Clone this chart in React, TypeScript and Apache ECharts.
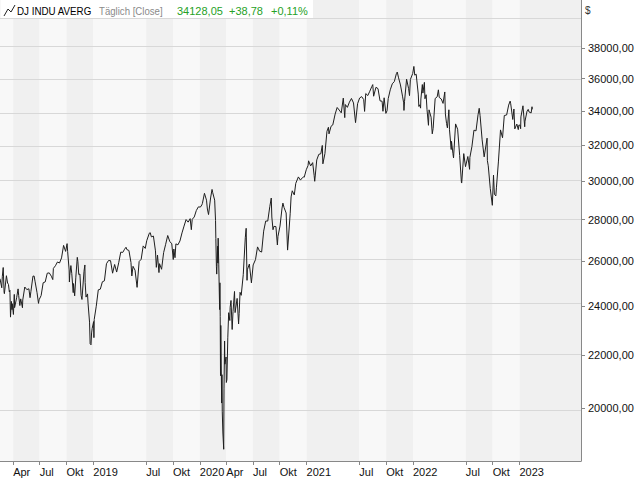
import React, { useEffect, useRef } from "react";
import * as echarts from "echarts";

const closes2018: [string, number][] = [
  ["2018-02-15", 25200], ["2018-02-16", 25219], ["2018-02-21", 24798], ["2018-02-23", 25310], ["2018-02-26", 25709],
  ["2018-03-01", 24608], ["2018-03-02", 24538], ["2018-03-09", 25336], ["2018-03-13", 25008], ["2018-03-16", 24947],
  ["2018-03-19", 24611], ["2018-03-21", 24683], ["2018-03-23", 23533], ["2018-03-26", 24202], ["2018-03-28", 23849],
  ["2018-03-29", 24103], ["2018-04-02", 23644], ["2018-04-05", 24505], ["2018-04-06", 23933], ["2018-04-13", 24360],
  ["2018-04-18", 24748], ["2018-04-20", 24463], ["2018-04-24", 24024], ["2018-04-27", 24311], ["2018-05-03", 23930],
  ["2018-05-04", 24263], ["2018-05-11", 24831], ["2018-05-18", 24715], ["2018-05-25", 24753], ["2018-05-29", 24362],
  ["2018-06-01", 24635], ["2018-06-08", 25317], ["2018-06-12", 25320], ["2018-06-15", 25090], ["2018-06-22", 24581],
  ["2018-06-27", 24117], ["2018-06-29", 24271], ["2018-07-06", 24456], ["2018-07-13", 25019], ["2018-07-20", 25058],
  ["2018-07-27", 25451], ["2018-08-03", 25463], ["2018-08-10", 25313], ["2018-08-15", 25162], ["2018-08-17", 25669],
  ["2018-08-24", 25790], ["2018-08-31", 25965], ["2018-09-07", 25917], ["2018-09-14", 26155], ["2018-09-21", 26744],
  ["2018-09-28", 26458], ["2018-10-03", 26828], ["2018-10-05", 26447], ["2018-10-10", 25599], ["2018-10-11", 25053],
  ["2018-10-12", 25340], ["2018-10-16", 25798], ["2018-10-19", 25444], ["2018-10-24", 24583], ["2018-10-25", 24984],
  ["2018-10-29", 24443], ["2018-11-02", 25271], ["2018-11-07", 26180], ["2018-11-09", 25989], ["2018-11-12", 25387],
  ["2018-11-16", 25413], ["2018-11-20", 24466], ["2018-11-23", 24286], ["2018-11-30", 25538], ["2018-12-03", 25826],
  ["2018-12-04", 25027], ["2018-12-07", 24389], ["2018-12-12", 24527], ["2018-12-14", 24101], ["2018-12-19", 23324],
  ["2018-12-21", 22445], ["2018-12-24", 22400], ["2018-12-26", 22878], ["2018-12-28", 23062],
];

const closes2019: [string, number][] = [
  ["2019-01-02", 23346], ["2019-01-03", 22686], ["2019-01-04", 23433], ["2019-01-11", 23996], ["2019-01-18", 24706],
  ["2019-01-25", 24737], ["2019-02-01", 25064], ["2019-02-08", 25106], ["2019-02-15", 25883], ["2019-02-22", 26031],
  ["2019-03-01", 26026], ["2019-03-08", 25450], ["2019-03-15", 25849], ["2019-03-22", 25502], ["2019-03-29", 25929],
  ["2019-04-05", 26425], ["2019-04-12", 26412], ["2019-04-18", 26559], ["2019-04-23", 26656], ["2019-04-26", 26543],
  ["2019-05-03", 26505], ["2019-05-10", 25942], ["2019-05-13", 25325], ["2019-05-17", 25764], ["2019-05-24", 25586],
  ["2019-05-31", 24815], ["2019-06-07", 25984], ["2019-06-14", 26090], ["2019-06-21", 26719], ["2019-06-28", 26600],
  ["2019-07-03", 26966], ["2019-07-12", 27332], ["2019-07-15", 27359], ["2019-07-19", 27154], ["2019-07-26", 27192],
  ["2019-08-02", 26485], ["2019-08-05", 25718], ["2019-08-09", 26287], ["2019-08-14", 25479], ["2019-08-16", 25886],
  ["2019-08-23", 25629], ["2019-08-30", 26403], ["2019-09-06", 26797], ["2019-09-13", 27220], ["2019-09-20", 26935],
  ["2019-09-27", 26820], ["2019-10-02", 26079], ["2019-10-04", 26573], ["2019-10-08", 26164], ["2019-10-11", 26817],
  ["2019-10-18", 26770], ["2019-10-25", 26958], ["2019-11-01", 27347], ["2019-11-08", 27681], ["2019-11-15", 28005],
  ["2019-11-22", 27876], ["2019-11-29", 28051], ["2019-12-03", 27503], ["2019-12-06", 28015], ["2019-12-13", 28135],
  ["2019-12-20", 28455], ["2019-12-27", 28645],
];

const closes2020: [string, number][] = [
  ["2020-01-03", 28635], ["2020-01-08", 28745], ["2020-01-10", 28824], ["2020-01-17", 29348], ["2020-01-24", 28990],
  ["2020-01-27", 28536], ["2020-01-31", 28256], ["2020-02-07", 29103], ["2020-02-12", 29551], ["2020-02-14", 29398],
  ["2020-02-21", 28992], ["2020-02-24", 27961], ["2020-02-25", 27081], ["2020-02-27", 25766], ["2020-02-28", 25409],
  ["2020-03-02", 26703], ["2020-03-03", 25917], ["2020-03-04", 27091], ["2020-03-06", 25865], ["2020-03-09", 23851],
  ["2020-03-10", 25018], ["2020-03-11", 23553], ["2020-03-12", 21200], ["2020-03-13", 23186], ["2020-03-16", 20189],
  ["2020-03-17", 21237], ["2020-03-18", 19899], ["2020-03-20", 19174], ["2020-03-23", 18592], ["2020-03-24", 20705],
  ["2020-03-26", 22552], ["2020-03-27", 21637], ["2020-03-31", 21917], ["2020-04-01", 20943], ["2020-04-03", 21053],
  ["2020-04-06", 22680], ["2020-04-09", 23719], ["2020-04-13", 23390], ["2020-04-14", 23949], ["2020-04-17", 24242],
  ["2020-04-21", 23019], ["2020-04-24", 23775], ["2020-04-29", 24634], ["2020-05-01", 23724], ["2020-05-08", 24331],
  ["2020-05-13", 23248], ["2020-05-15", 23685], ["2020-05-18", 24597], ["2020-05-22", 24465], ["2020-05-29", 25383],
  ["2020-06-05", 27111], ["2020-06-08", 27572], ["2020-06-11", 25128], ["2020-06-12", 25606], ["2020-06-19", 25871],
  ["2020-06-26", 25016], ["2020-07-02", 25827], ["2020-07-10", 26075], ["2020-07-17", 26672], ["2020-07-24", 26470],
  ["2020-07-31", 26428], ["2020-08-07", 27433], ["2020-08-14", 27931], ["2020-08-21", 27930], ["2020-08-28", 28654],
  ["2020-09-02", 29100], ["2020-09-04", 28133], ["2020-09-08", 27501], ["2020-09-11", 27666], ["2020-09-18", 27657],
  ["2020-09-23", 26763], ["2020-09-25", 27174], ["2020-10-02", 27683], ["2020-10-09", 28587], ["2020-10-12", 28838],
  ["2020-10-16", 28606], ["2020-10-23", 28336], ["2020-10-28", 26520], ["2020-10-30", 26502], ["2020-11-06", 28323],
  ["2020-11-09", 29158], ["2020-11-13", 29480], ["2020-11-20", 29263], ["2020-11-25", 29872], ["2020-12-04", 30218],
  ["2020-12-11", 30046], ["2020-12-18", 30179], ["2020-12-21", 30216], ["2020-12-24", 30200], ["2020-12-31", 30606],
];

const closes2021: [string, number][] = [
  ["2021-01-06", 30830], ["2021-01-08", 31098], ["2021-01-15", 30814], ["2021-01-22", 30997], ["2021-01-27", 30303],
  ["2021-01-29", 29983], ["2021-02-05", 31148], ["2021-02-12", 31458], ["2021-02-19", 31494], ["2021-02-24", 31962],
  ["2021-02-26", 30932], ["2021-03-05", 31496], ["2021-03-12", 32779], ["2021-03-17", 33015], ["2021-03-19", 32628],
  ["2021-03-26", 33073], ["2021-04-01", 33153], ["2021-04-09", 33801], ["2021-04-16", 34200], ["2021-04-23", 34043],
  ["2021-04-30", 33875], ["2021-05-07", 34778], ["2021-05-12", 33587], ["2021-05-14", 34382], ["2021-05-21", 34208],
  ["2021-05-28", 34529], ["2021-06-04", 34756], ["2021-06-11", 34480], ["2021-06-18", 33290], ["2021-06-25", 34433],
  ["2021-07-02", 34786], ["2021-07-09", 34870], ["2021-07-16", 34687], ["2021-07-19", 33962], ["2021-07-23", 35061],
  ["2021-07-30", 34935], ["2021-08-06", 35209], ["2021-08-13", 35515], ["2021-08-16", 35625], ["2021-08-19", 34894],
  ["2021-08-27", 35455], ["2021-09-03", 35369], ["2021-09-10", 34608], ["2021-09-17", 34585], ["2021-09-20", 33970],
  ["2021-09-24", 34798], ["2021-09-30", 33844], ["2021-10-04", 34002], ["2021-10-08", 34746], ["2021-10-15", 35295],
  ["2021-10-22", 35677], ["2021-10-29", 35820], ["2021-11-05", 36328], ["2021-11-08", 36432], ["2021-11-12", 36100],
  ["2021-11-19", 35602], ["2021-11-26", 34899], ["2021-11-30", 34484], ["2021-12-01", 34022], ["2021-12-03", 34580],
  ["2021-12-10", 35971], ["2021-12-17", 35365], ["2021-12-20", 34932], ["2021-12-23", 35950], ["2021-12-31", 36338],
];

const closes2022: [string, number][] = [
  ["2022-01-04", 36800], ["2022-01-07", 36231], ["2022-01-12", 36290], ["2022-01-14", 35912], ["2022-01-19", 35029],
  ["2022-01-21", 34265], ["2022-01-24", 34365], ["2022-01-27", 34160], ["2022-01-28", 34725], ["2022-02-02", 35629],
  ["2022-02-04", 35089], ["2022-02-09", 35768], ["2022-02-11", 34738], ["2022-02-15", 34989], ["2022-02-18", 34079],
  ["2022-02-23", 33131], ["2022-02-25", 34059], ["2022-03-04", 33615], ["2022-03-08", 32632], ["2022-03-11", 32944],
  ["2022-03-18", 34754], ["2022-03-25", 34861], ["2022-03-29", 35294], ["2022-04-01", 34818], ["2022-04-08", 34721],
  ["2022-04-14", 34451], ["2022-04-20", 35161], ["2022-04-22", 33811], ["2022-04-26", 33240], ["2022-04-29", 32977],
  ["2022-05-04", 34061], ["2022-05-06", 32899], ["2022-05-12", 31730], ["2022-05-13", 32197], ["2022-05-18", 31490],
  ["2022-05-20", 31262], ["2022-05-27", 33213], ["2022-06-03", 32900], ["2022-06-10", 31393], ["2022-06-16", 29927],
  ["2022-06-17", 29889], ["2022-06-24", 31500], ["2022-06-30", 30775], ["2022-07-08", 31338], ["2022-07-14", 30630],
  ["2022-07-15", 31289], ["2022-07-22", 31899], ["2022-07-29", 32845], ["2022-08-05", 32803], ["2022-08-12", 33761],
  ["2022-08-16", 34152], ["2022-08-19", 33707], ["2022-08-26", 32283], ["2022-09-02", 31318], ["2022-09-12", 32381],
  ["2022-09-13", 31105], ["2022-09-16", 30822], ["2022-09-23", 29590], ["2022-09-30", 28726], ["2022-10-04", 30317],
  ["2022-10-07", 29297], ["2022-10-12", 29211], ["2022-10-14", 29635], ["2022-10-21", 31083], ["2022-10-28", 32861],
  ["2022-11-04", 32403], ["2022-11-10", 33716], ["2022-11-18", 33746], ["2022-11-25", 34347], ["2022-11-30", 34590],
  ["2022-12-02", 34430], ["2022-12-09", 33477], ["2022-12-13", 34109], ["2022-12-16", 32920], ["2022-12-23", 33204],
  ["2022-12-28", 32876], ["2022-12-30", 33147],
];

const closes2023: [string, number][] = [
  ["2023-01-03", 33136], ["2023-01-05", 32930], ["2023-01-06", 33631], ["2023-01-13", 34303], ["2023-01-19", 33045],
  ["2023-01-20", 33376], ["2023-01-27", 33978], ["2023-01-31", 34086], ["2023-02-03", 33926], ["2023-02-10", 33869],
  ["2023-02-13", 34246], ["2023-02-14", 34089], ["2023-02-15", 34128],
];

// time axis tick dates (labelled ticks) – band boundaries follow them
const tickDates = [
  "2018-04-01", "2018-07-01", "2018-10-01", "2019-01-01", "2019-07-01", "2019-10-01",
  "2020-01-01", "2020-04-01", "2020-07-01", "2020-10-01", "2021-01-01", "2021-07-01",
  "2021-10-01", "2022-01-01", "2022-07-01", "2022-10-01", "2023-01-01",
];
const monthNames = ["Jan", "Feb", "Mär", "Apr", "Mai", "Jun", "Jul", "Aug", "Sep", "Okt", "Nov", "Dez"];
const priceTicks = [20000, 22000, 24000, 26000, 28000, 30000, 32000, 34000, 36000, 38000];
const gridPrices = [20000, 22000, 24000, 26000, 28000, 30000, 32000, 34000, 36000, 38000, 40000];

const axisStart = "2018-02-15";
const axisEnd = "2023-07-31";
const priceMin = 18207;
const priceMax = 41427;

const titleName = "DJ INDU AVERG";
const titleMode = "Täglich [Close]";
const lastClose = "34128,05";
const lastChange = "+38,78";
const lastChangePct = "+0,11%";

function ts(s: string): number {
  const [y, m, d] = s.split("-").map(Number);
  return Date.UTC(y, m - 1, d);
}

export default function App() {
  const ref = useRef<HTMLDivElement>(null);

  useEffect(() => {
    if (!ref.current) return;
    const chart = echarts.init(ref.current, null, { renderer: "svg" });
    const all = [...closes2018, ...closes2019, ...closes2020, ...closes2021, ...closes2022, ...closes2023];
    const seriesData = all.map(([d, v]) => [ts(d), Math.log(v)]);
    const bounds = [ts(axisStart), ...tickDates.map(ts), ts(axisEnd)];
    const bands: any[] = [];
    for (let i = 0; i < bounds.length - 1; i++) {
      bands.push([
        { xAxis: bounds[i], itemStyle: { color: i % 2 === 0 ? "#f8f8f8" : "#f0f0f0" } },
        { xAxis: bounds[i + 1] },
      ]);
    }
    const font = "Liberation Sans";
    const option: any = {
      animation: false,
      backgroundColor: "#ffffff",
      grid: { left: 0, right: 59, top: 0, bottom: 19, containLabel: false },
      xAxis: {
        type: "value",
        min: ts(axisStart),
        max: ts(axisEnd),
        axisLine: { show: true, lineStyle: { color: "#888888", width: 1 } },
        axisTick: { show: true, length: 4, customValues: tickDates.map(ts), lineStyle: { color: "#888888" } },
        axisLabel: {
          show: true,
          customValues: tickDates.map(ts),
          align: "left",
          margin: 5,
          color: "#111111",
          fontFamily: font,
          fontSize: 11,
          hideOverlap: false,
          formatter: (v: number) => {
            const d = new Date(v);
            const m = d.getUTCMonth();
            return m === 0 ? String(d.getUTCFullYear()) : monthNames[m];
          },
        },
        splitLine: { show: false },
        splitArea: { show: false },
      },
      yAxis: [
        {
          type: "value",
          position: "right",
          min: Math.log(priceMin),
          max: Math.log(priceMax),
          axisLine: { show: true, lineStyle: { color: "#888888", width: 1 } },
          axisTick: { show: true, length: 4, customValues: priceTicks.map(Math.log), lineStyle: { color: "#888888" } },
          axisLabel: {
            show: true,
            customValues: priceTicks.map(Math.log),
            margin: 7,
            color: "#111111",
            fontFamily: font,
            fontSize: 11,
            hideOverlap: false,
            formatter: (v: number) => Math.round(Math.exp(v)).toFixed(2).replace(".", ","),
          },
          splitLine: { show: false },
        },
        {
          type: "value",
          position: "left",
          min: 0,
          max: 1,
          axisLine: { show: true, lineStyle: { color: "#888888", width: 1 } },
          axisTick: { show: false },
          axisLabel: { show: false },
          splitLine: { show: false },
        },
      ],
      series: [
        {
          type: "line",
          data: seriesData,
          showSymbol: false,
          symbol: "none",
          lineStyle: { color: "#1e1e1e", width: 1 },
          z: 3,
          silent: true,
          markArea: { silent: true, z: 1, data: bands },
          markLine: {
            silent: true,
            z: 2,
            symbol: ["none", "none"],
            label: { show: false },
            lineStyle: { color: "#d8d8d8", width: 1, type: "solid" },
            data: gridPrices.map((p) => ({ yAxis: Math.log(p) })),
          },
        },
      ],
      graphic: [
        { type: "rect", x: 1, y: 0, shape: { width: 312, height: 18 }, style: { fill: "#ffffff" }, z: 10 },
        {
          type: "polyline",
          shape: { points: [[4, 16], [8, 9], [11, 12], [15, 5]] },
          style: { stroke: "#222222", lineWidth: 1, fill: null },
          z: 11,
        },
        {
          type: "text", x: 17, y: 11, scaleX: 0.89, z: 11,
          style: { text: titleName, fill: "#000000", fontFamily: font, fontSize: 11, verticalAlign: "middle" },
        },
        {
          type: "text", x: 99, y: 11, scaleX: 0.875, z: 11,
          style: { text: titleMode, fill: "#8a8a8a", fontFamily: font, fontSize: 11, verticalAlign: "middle" },
        },
        {
          type: "text", x: 177, y: 11, z: 11,
          style: { text: lastClose, fill: "#26a126", fontFamily: font, fontSize: 11, verticalAlign: "middle" },
        },
        {
          type: "text", x: 229, y: 11, z: 11,
          style: { text: lastChange, fill: "#26a126", fontFamily: font, fontSize: 11, verticalAlign: "middle" },
        },
        {
          type: "text", x: 271, y: 11, z: 11,
          style: { text: lastChangePct, fill: "#26a126", fontFamily: font, fontSize: 11, verticalAlign: "middle" },
        },
        {
          type: "text", x: 585, y: 10, z: 11,
          style: { text: "$", fill: "#333333", fontFamily: font, fontSize: 10, verticalAlign: "middle" },
        },
      ],
    };
    chart.setOption(option);
    return () => chart.dispose();
  }, []);

  return (
    <div
      ref={ref}
      style={{ position: "absolute", left: 0, top: 0, width: 640, height: 480, background: "#fff" }}
    />
  );
}
